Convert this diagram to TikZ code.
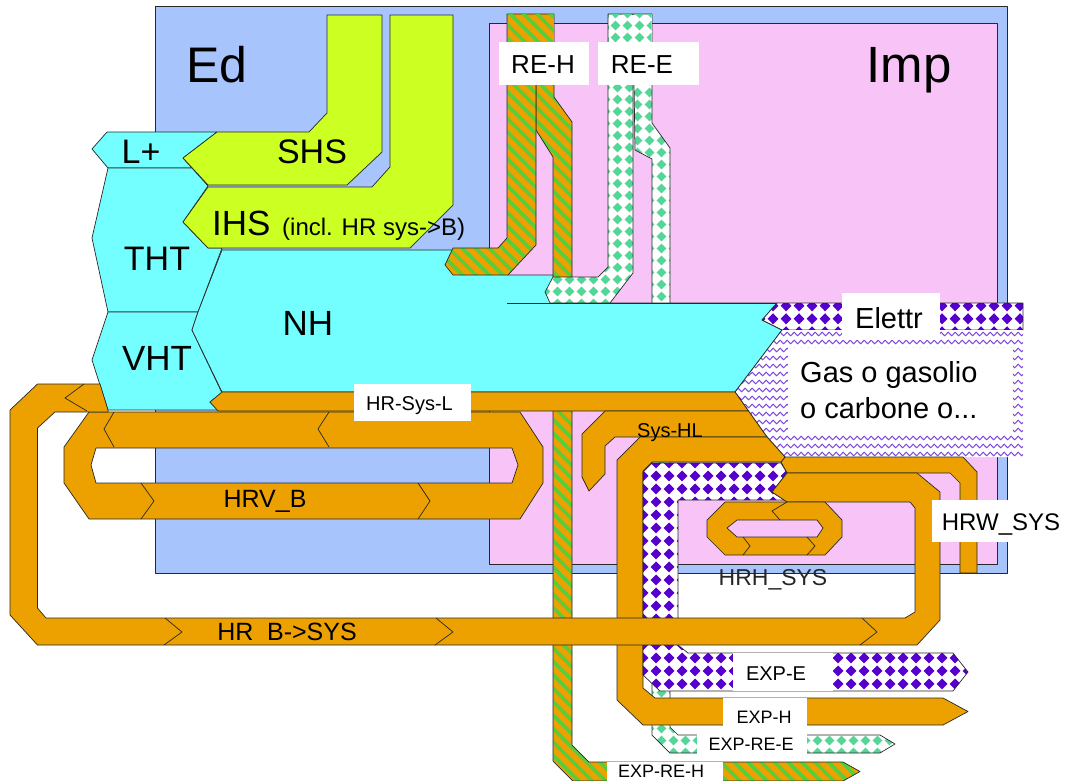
\documentclass[tikz,border=0pt]{standalone}
\usepackage{fontspec}
\setmainfont{Liberation Sans}
\usetikzlibrary{patterns.meta,decorations.pathmorphing}
\definecolor{edblue}{RGB}{168,196,252}
\definecolor{imppink}{RGB}{248,196,248}
\definecolor{cy}{RGB}{115,255,255}
\definecolor{yg}{RGB}{204,255,34}
\definecolor{org}{RGB}{236,161,0}
\definecolor{sgreen}{RGB}{85,205,60}
\definecolor{vio}{RGB}{85,0,204}
\definecolor{teal2}{RGB}{85,214,153}
\definecolor{wave}{RGB}{125,70,220}
\definecolor{edge}{RGB}{40,40,40}
\tikzdeclarepattern{name=vdiam, type=uncolored,
  bounding box={(0pt,0pt) and (13pt,13pt)}, tile size={(13pt,13pt)},
  code={\fill (6.5pt,0.7pt) -- (12.3pt,6.5pt) -- (6.5pt,12.3pt) -- (0.7pt,6.5pt) -- cycle;}}
\tikzdeclarepattern{name=tdiam, type=uncolored,
  bounding box={(0pt,0pt) and (11.5pt,11.5pt)}, tile size={(11.5pt,11.5pt)},
  code={\fill (5.75pt,0.7pt) -- (10.8pt,5.75pt) -- (5.75pt,10.8pt) -- (0.7pt,5.75pt) -- cycle;}}
\tikzset{
  bd/.style={draw=edge, line width=0.7pt},
  cyf/.style={bd, fill=cy},
  ygf/.style={bd, fill=yg},
  orf/.style={bd, fill=org},
  strp/.style={preaction={fill=org}, pattern={Lines[angle=-45,distance=9.5pt,line width=3.5pt]}, pattern color=sgreen},
  strf/.style={bd, strp},
  tdp/.style={preaction={fill=white}, pattern=tdiam, pattern color=teal2},
  vdf/.style={bd, preaction={fill=white}, pattern=vdiam, pattern color=vio},
  tdf/.style={bd, tdp},
  chev/.style={draw=edge, line width=0.7pt},
  lbl/.style={inner sep=0pt, anchor=base, text=black},
  lblw/.style={inner sep=0pt, anchor=base west, text=black},
}
\begin{document}
\begin{tikzpicture}[x=1pt,y=-1pt,line join=round]
\useasboundingbox (0,0) rectangle (1067,780);
% boxes
\draw[bd, fill=edblue] (155,6) rectangle (1007,573);
\draw[bd, fill=imppink] (489,23) rectangle (997,564);
% renewable right branches (behind)
\draw[strf] (536,14) -- (554,14) -- (554,97) -- (572,122) -- (572,745) -- (589,762) -- (843,762) -- (860,771.5) -- (843,781) -- (573,781) -- (553,761) -- (553,157) -- (536,130) -- cycle;
\draw[tdf] (633,14) -- (652,14) -- (652,123) -- (670,148) -- (670,727) -- (678,735) -- (880,735) -- (895,744) -- (880,753) -- (670,753) -- (652,735) -- (652,159) -- (635,150) -- cycle;
% cyan building flows
\draw[cyf] (107,132) -- (217,132) -- (183,158) -- (192,168) -- (108,168) -- (92,149) -- cycle;
\draw[cyf] (108,168) -- (192,168) -- (208,186) -- (183,222) -- (208,248) -- (222,248) -- (198,312) -- (108,312) -- (92,238) -- cycle;
\draw[cyf] (108,312) -- (198,312) -- (192,330) -- (222,393) -- (210,402) -- (218,410) -- (108,410) -- (92,360) -- cycle;
\draw[cyf] (222,250) -- (508,250) -- (508,275) -- (553,275) -- (553,303) -- (777,303) -- (762,320) -- (782,330) -- (735,392) -- (222,392) -- (192,330) -- (198,312) -- cycle;
% renewable left branches (elbows)
\draw[strf] (507,14) -- (536,14) -- (536,245) -- (508,275) -- (453,275) -- (445,265) -- (453,248) -- (498,248) -- (507,238) -- cycle;
\draw[tdf] (608,14) -- (633,14) -- (633,273) -- (610,303) -- (550,303) -- (545,292) -- (553,277) -- (598,277) -- (608,267) -- cycle;
% merge the split tops
\path[strp] (507.5,14.5) rectangle (553.5,60);
\path[tdp] (608.5,14.5) rectangle (651.5,60);
\draw[bd] (507,303) -- (1023,303);
% yellow flows
\draw[ygf] (327,15) -- (382,15) -- (382,152) -- (347,185) -- (208,185) -- (183,158) -- (217,132) -- (309,132) -- (327,113) -- cycle;
\draw[ygf] (390,15) -- (453,15) -- (453,205) -- (410,248) -- (208,248) -- (183,222) -- (208,187) -- (372,187) -- (390,167) -- cycle;
% electricity band
\draw[vdf] (777,303) -- (1023,303) -- (1023,330) -- (782,330) -- (762,320) -- cycle;
% gas wedge
\begin{scope}
\clip (782,330) -- (1023,330) -- (1023,457) -- (785,457) -- (767,437) -- (735,392) -- cycle;
\fill[white] (700,320) rectangle (1030,470);
\foreach \yy in {334,342,...,458}
  \draw[wave, line width=1pt, decorate, decoration={snake, segment length=7pt, amplitude=1.8pt}] (715,\yy) -- (1035,\yy);
\end{scope}
\draw[bd] (782,330) -- (735,392) -- (767,437) -- (785,457);
% orange flows
\draw[orf] (210,402) -- (222,392) -- (735,392) -- (748.5,411) -- (218,411) -- cycle;
\draw[orf, even odd rule] (89,412) -- (520,412) -- (543,447) -- (543,483) -- (520,519) -- (89,519) -- (64,483) -- (64,447) -- cycle
  (96,448) -- (512,448) -- (518,465) -- (512,483) -- (96,483) -- (91,465) -- cycle;
\draw[orf] (582,434) -- (605,411) -- (748.5,411) -- (767,437) -- (615,437) -- (605,446) -- (605,474) -- (589,491) -- (582,477) -- cycle;
\draw[orf] (785,457) -- (963,457) -- (977,472) -- (977,573) -- (960,573) -- (960,483) -- (950,473) -- (787,473) -- (781,462) -- cycle;
\draw[orf] (640,437) -- (767,437) -- (785,457) -- (781,462) -- (652,462) -- (643,471) -- (643,688) -- (655,698) -- (943,698) -- (968,711.5) -- (943,725) -- (643,725) -- (617,700) -- (617,460) -- cycle;
\draw[vdf] (652,463) -- (781,463) -- (787,473) -- (772,492) -- (785,500) -- (678,500) -- (678,645) -- (688,653) -- (953,653) -- (968,672) -- (953,691) -- (660,691) -- (643,675) -- (643,472) -- cycle;
% HR B->SYS outer loop, over the verticals
\draw[orf] (108,412) -- (55,412) -- (37.5,428) -- (37.5,608) -- (46,618) -- (905,618) -- (915,612) -- (915,508) -- (910,502) -- (787,502) -- (772,492) -- (787,473) -- (917,473) -- (940,492) -- (940,620) -- (917,645) -- (37.5,645) -- (10,615) -- (10,410) -- (37.5,384) -- (100,384) -- (108,410) -- cycle;
\draw[orf, even odd rule] (725,502) -- (825,502) -- (842,520) -- (842,537) -- (825,555) -- (725,555) -- (707,537) -- (707,520) -- cycle
  (737,520) -- (817,520) -- (823,528) -- (817,537) -- (737,537) -- (727,528) -- cycle;
% chevrons
\draw[chev] (84,384) -- (65,398) -- (87,411);
\draw[chev] (165,618) -- (182,632) -- (164,645);
\draw[chev] (436,618) -- (453,632) -- (435,645);
\draw[chev] (862,618) -- (877,632) -- (860,645);
\draw[chev] (114,412) -- (104,429) -- (114,447);
\draw[chev] (329,412) -- (318,429) -- (329,447);
\draw[chev] (141,483) -- (154,501) -- (141,519);
\draw[chev] (418,483) -- (430,501) -- (418,519);
\draw[chev] (787,502) -- (772,511) -- (780,520);
\draw[chev] (743,537) -- (750,546) -- (743,555);
\draw[chev] (807,537) -- (815,546) -- (807,555);
% white label boxes
\fill[white] (499,42) rectangle (589,85);
\fill[white] (598,42) rectangle (699,85);
\fill[white] (842,293) rectangle (940,340);
\fill[white] (788,348) rectangle (1013,433);
\fill[white] (354,384) rectangle (471,421);
\fill[white] (932,500) rectangle (1065,542);
\fill[white] (733,653) rectangle (833,691);
\fill[white] (723,698) rectangle (807,727);
\fill[white] (697,727) rectangle (807,754);
\fill[white] (607,762) rectangle (723,781);
% texts
\node[lbl, font=\fontsize{50}{60}\selectfont] (ed) at (217,82) {Ed};
\node[lbl, font=\fontsize{51}{60}\selectfont] (imp) at (909,82) {Imp};
\node[lbl, font=\fontsize{34}{40}\selectfont] (shs) at (312,163) {SHS};
\node[lblw, font=\fontsize{35}{40}\selectfont] (ihs) at (212,235) {IHS};
\node[lblw, font=\fontsize{24}{28}\selectfont] (incl) at (282,235) {(incl. HR sys->B)};
\node[lbl, font=\fontsize{34}{40}\selectfont] (lplus) at (141,163) {L+};
\node[lbl, font=\fontsize{34}{40}\selectfont] (tht) at (157,270) {THT};
\node[lbl, font=\fontsize{35}{40}\selectfont] (vht) at (157,370) {VHT};
\node[lbl, font=\fontsize{35}{40}\selectfont] (nh) at (308,335) {NH};
\node[lbl, font=\fontsize{29}{34}\selectfont] (elettr) at (889,328) {Elettr};
\node[lblw, font=\fontsize{29}{34}\selectfont] (gas1) at (800,382) {Gas o gasolio};
\node[lblw, font=\fontsize{29}{34}\selectfont] (gas2) at (800,418) {o carbone o...};
\node[lbl, font=\fontsize{26}{30}\selectfont] (reh) at (543,73) {RE-H};
\node[lbl, font=\fontsize{26}{30}\selectfont] (ree) at (642,73) {RE-E};
\node[lbl, font=\fontsize{20}{24}\selectfont] (hrsysl) at (409.5,410) {HR-Sys-L};
\node[lbl, font=\fontsize{20}{24}\selectfont] (syshl) at (670,437) {Sys-HL};
\node[lbl, font=\fontsize{25}{30}\selectfont] (hrvb) at (265,507) {HRV\_B};
\node[lbl, font=\fontsize{25}{30}\selectfont] (hrbsys) at (287,640) {HR\hspace{0.55em}B->SYS};
\node[lbl, font=\fontsize{24}{28}\selectfont] (hrwsys) at (1001,530) {HRW\_SYS};
\node[lbl, font=\fontsize{23}{28}\selectfont, text=black!85] (hrhsys) at (773,585) {HRH\_SYS};
\node[lbl, font=\fontsize{20}{24}\selectfont] (expe) at (776,680) {EXP-E};
\node[lbl, font=\fontsize{18}{22}\selectfont] (exph) at (764,723) {EXP-H};
\node[lbl, font=\fontsize{18}{22}\selectfont] (expree) at (751,750) {EXP-RE-E};
\node[lbl, font=\fontsize{18}{22}\selectfont] (expreh) at (661,777) {EXP-RE-H};
\end{tikzpicture}
\end{document}
